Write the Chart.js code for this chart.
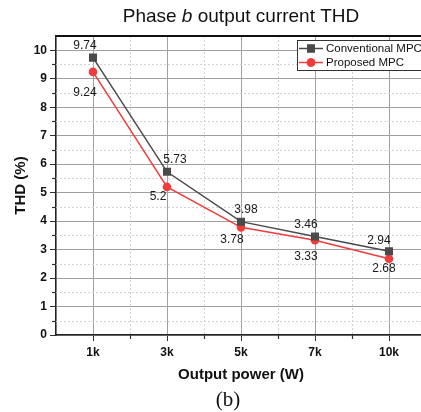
<!DOCTYPE html>
<html>
<head>
<meta charset="utf-8">
<script src="https://cdn.jsdelivr.net/npm/chart.js@4/dist/chart.umd.min.js"></script>
<style>
  html, body { margin: 0; padding: 0; background: #fff; overflow: hidden; }
  #wrap { width: 421px; height: 412px; overflow: hidden; position: relative; }
  canvas { display: block; }
</style>
</head>
<body>
<div id="wrap"><canvas id="thdChart" width="440" height="412"></canvas></div>
<script>
// THD of phase b output current vs. output power
const powerLabels = ['1k', '3k', '5k', '7k', '10k'];
const conventionalTHD = [9.74, 5.73, 3.98, 3.46, 2.94];
const proposedTHD = [9.24, 5.2, 3.78, 3.33, 2.68];
const yMin = 0;
const yMax = 10.5;

// where each value label sits relative to its point (dx, dy in px)
const conventionalLabelShift = [[-8, -12], [8, -12], [5, -12], [-9, -12], [-10, -11]];
const proposedLabelShift = [[-8, 21], [-9, 10], [-9, 12], [-9, 17], [-5, 10]];

const FONT = "'Liberation Sans', Arial, sans-serif";
const GREY = '#4a4a4a';
const RED = '#f23b3b';

// dashed half-step grid plus minor ticks
const minorGrid = {
    id: 'minorGrid',
    beforeDatasetsDraw(chart) {
        const { ctx, chartArea: a, scales: { x, y } } = chart;
        ctx.save();
        ctx.strokeStyle = '#d2d2d2';
        ctx.lineWidth = 1;
        ctx.setLineDash([2, 2]);
        for (let v = yMin + 0.5; v < yMax; v += 1) {
            const py = Math.round(y.getPixelForValue(v)) + 0.5;
            ctx.beginPath();
            ctx.moveTo(a.left, py);
            ctx.lineTo(a.right, py);
            ctx.stroke();
        }
        for (let i = 0; i < powerLabels.length - 1; i++) {
            const px = Math.round((x.getPixelForValue(i) + x.getPixelForValue(i + 1)) / 2) + 0.5;
            ctx.beginPath();
            ctx.moveTo(px, a.top);
            ctx.lineTo(px, a.bottom);
            ctx.stroke();
        }
        ctx.setLineDash([]);
        ctx.strokeStyle = '#333';
        ctx.lineWidth = 1.2;
        for (let v = yMin + 0.5; v < yMax; v += 1) {
            const py = Math.round(y.getPixelForValue(v)) + 0.5;
            ctx.beginPath();
            ctx.moveTo(a.left - 4, py);
            ctx.lineTo(a.left, py);
            ctx.stroke();
        }
        for (let i = 0; i < powerLabels.length - 1; i++) {
            const px = Math.round((x.getPixelForValue(i) + x.getPixelForValue(i + 1)) / 2) + 0.5;
            ctx.beginPath();
            ctx.moveTo(px, a.bottom);
            ctx.lineTo(px, a.bottom + 4);
            ctx.stroke();
        }
        ctx.restore();
    }
};

// frame, value labels, legend box, title and caption
const decorations = {
    id: 'decorations',
    afterDraw(chart) {
        const { ctx, chartArea: a } = chart;
        ctx.save();

        // box frame
        ctx.strokeStyle = '#111';
        ctx.lineWidth = 1.8;
        ctx.beginPath();
        ctx.moveTo(a.left, a.top);
        ctx.lineTo(a.right, a.top);
        ctx.lineTo(a.right, a.bottom);
        ctx.stroke();

        // value labels
        ctx.font = '12px ' + FONT;
        ctx.fillStyle = '#1a1a1a';
        ctx.textAlign = 'center';
        ctx.textBaseline = 'middle';
        const sets = [[conventionalTHD, conventionalLabelShift], [proposedTHD, proposedLabelShift]];
        sets.forEach(([vals, shift], di) => {
            chart.getDatasetMeta(di).data.forEach((pt, i) => {
                ctx.fillText(String(vals[i]), pt.x + shift[i][0], pt.y + shift[i][1]);
            });
        });

        // legend
        const lx = 297, ly = 40, lw = 135, lh = 30;
        ctx.fillStyle = '#fff';
        ctx.fillRect(lx, ly, lw, lh);
        ctx.strokeStyle = '#333';
        ctx.lineWidth = 1;
        ctx.strokeRect(lx + 0.5, ly + 0.5, lw, lh);
        const rows = [
            { label: 'Conventional MPC', color: GREY, style: 'rect', r: 5.7 },
            { label: 'Proposed MPC', color: RED, style: 'circle', r: 4.3 }
        ];
        rows.forEach((row, i) => {
            const ry = ly + 8.5 + i * 14;
            ctx.strokeStyle = row.color;
            ctx.lineWidth = 1.5;
            ctx.beginPath();
            ctx.moveTo(lx + 2, ry);
            ctx.lineTo(lx + 26, ry);
            ctx.stroke();
            ctx.fillStyle = row.color;
            Chart.helpers.drawPoint(ctx, { pointStyle: row.style, radius: row.r, borderWidth: 0 }, lx + 14, ry);
            ctx.fill();
            ctx.fillStyle = '#111';
            ctx.font = '11.5px ' + FONT;
            ctx.textAlign = 'left';
            ctx.fillText(row.label, lx + 29, ry);
        });

        // title with italic phase letter
        const cx = (a.left + a.right) / 2;
        const parts = [['Phase ', ''], ['b', 'italic '], [' output current THD', '']];
        let total = 0;
        parts.forEach(([t, s]) => { ctx.font = s + '19px ' + FONT; total += ctx.measureText(t).width; });
        let tx = cx - total / 2;
        ctx.fillStyle = '#111';
        ctx.textAlign = 'left';
        ctx.textBaseline = 'middle';
        parts.forEach(([t, s]) => {
            ctx.font = s + '19px ' + FONT;
            ctx.fillText(t, tx, 17);
            tx += ctx.measureText(t).width;
        });

        // panel caption
        ctx.font = "21px 'Liberation Serif', 'Times New Roman', serif";
        ctx.textAlign = 'center';
        ctx.fillText('(b)', 228, 400);
        ctx.restore();
    }
};

new Chart(document.getElementById('thdChart'), {
    type: 'line',
    data: {
        labels: powerLabels,
        datasets: [
            {
                label: 'Conventional MPC',
                data: conventionalTHD,
                borderColor: GREY,
                backgroundColor: GREY,
                borderWidth: 1.5,
                pointStyle: 'rect',
                pointRadius: 5.7,
                pointBorderWidth: 0,
                tension: 0
            },
            {
                label: 'Proposed MPC',
                data: proposedTHD,
                borderColor: RED,
                backgroundColor: RED,
                borderWidth: 1.5,
                pointStyle: 'circle',
                pointRadius: 4.3,
                pointBorderWidth: 0,
                tension: 0
            }
        ]
    },
    options: {
        responsive: false,
        animation: false,
        layout: { padding: { top: 36, right: 14, left: 0, bottom: 0 } },
        plugins: {
            legend: { display: false },
            tooltip: { enabled: false }
        },
        scales: {
            x: {
                type: 'category',
                offset: true,
                afterFit: (axis) => { axis.height = 77; },
                grid: { color: '#a0a0a0', tickColor: '#333', tickLength: 6, lineWidth: 1 },
                border: { color: '#222', width: 1.6 },
                ticks: { color: '#111', font: { family: FONT, size: 12, weight: 'bold' }, padding: 4 },
                title: {
                    display: true,
                    text: 'Output power (W)',
                    color: '#111',
                    font: { family: FONT, size: 15, weight: 'bold' },
                    padding: { top: 0, bottom: 28 }
                }
            },
            y: {
                min: yMin,
                max: yMax,
                afterFit: (axis) => { axis.width = 56; },
                afterBuildTicks: (axis) => {
                    axis.ticks = axis.ticks.filter(t => Number.isInteger(t.value));
                },
                grid: { color: '#a0a0a0', tickColor: '#333', tickLength: 6, lineWidth: 1 },
                border: { color: '#222', width: 1.6 },
                ticks: { stepSize: 1, color: '#111', font: { family: FONT, size: 12, weight: 'bold' }, padding: 3 },
                title: {
                    display: true,
                    text: 'THD (%)',
                    color: '#111',
                    font: { family: FONT, size: 15, weight: 'bold' },
                    padding: { top: 12, bottom: 0 }
                }
            }
        }
    },
    plugins: [minorGrid, decorations]
});
</script>
</body>
</html>
